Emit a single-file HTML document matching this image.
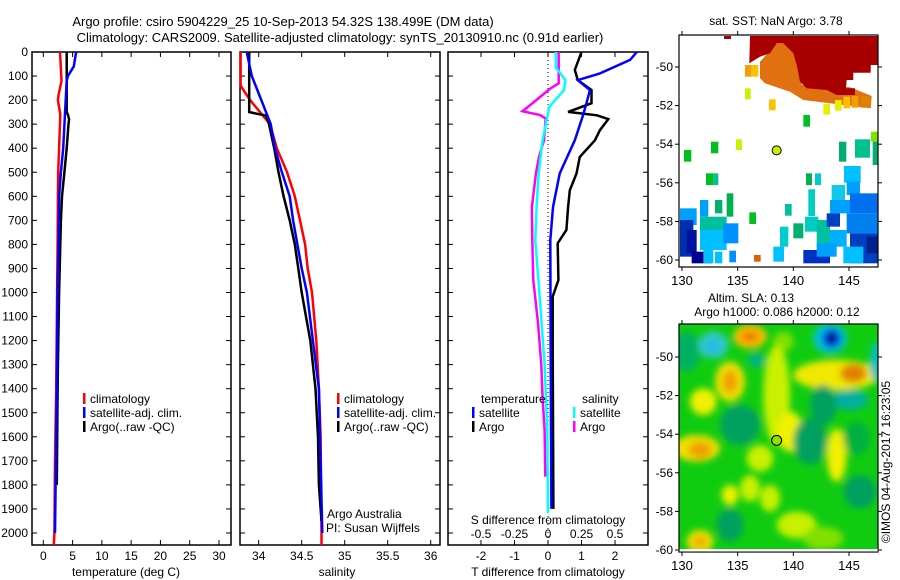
<!DOCTYPE html>
<html><head><meta charset="utf-8"><style>
html,body{margin:0;padding:0;background:#fff;}
svg{display:block;font-family:"Liberation Sans",sans-serif;}
text{font-size:12px;fill:#000;}
</style></head><body>
<svg id="chart" width="900" height="580" viewBox="0 0 900 580" xmlns="http://www.w3.org/2000/svg">
<defs>
<filter id="blur" x="-20%" y="-20%" width="140%" height="140%"><feGaussianBlur stdDeviation="3.5"/></filter>
<clipPath id="clipSla"><rect x="679" y="324" width="199" height="225"/></clipPath>
<clipPath id="clipSst"><rect x="679" y="35" width="199" height="232"/></clipPath>
</defs>
<text x="283" y="26" text-anchor="middle" style="font-size:13px">Argo profile: csiro 5904229_25 10-Sep-2013 54.32S 138.499E (DM data)</text>
<text x="340" y="42" text-anchor="middle" style="font-size:13px">Climatology: CARS2009. Satellite-adjusted climatology: synTS_20130910.nc (0.91d earlier)</text>
<g id="g"></g>
</svg>
<script>
// ---- data ----
var depthTicks = [0,100,200,300,400,500,600,700,800,900,1000,1100,1200,1300,1400,1500,1600,1700,1800,1900,2000];
var tempTicks = [0,5,10,15,20,25,30];
var salTicks = [34,34.5,35,35.5,36];
var tdiffTicks = [-2,-1,0,1,2];
var sdiffTicks = [-0.5,-0.25,0,0.25,0.5];
var sdiffTickLabels = ["-0.5","-0.25","0","0.25","0.5"];

var tClimDepth = [0,120,180,200,260,400,500,600,800,1000,1400,1700,2000,2050];
var tClimVal   = [2.85,3.1,2.6,2.5,2.9,2.7,2.55,2.5,2.45,2.35,2.2,2.0,1.9,1.8];
var tSatDepth  = [0,60,100,120,400,500,600,800,1000,1400,1800,2000];
var tSatVal    = [5.6,5.2,4.2,4.0,3.4,3.0,2.7,2.6,2.45,2.3,2.1,2.0];
var tArgoDepth = [0,250,260,280,300,400,500,600,700,800,1000,1300,1500,1800];
var tArgoVal   = [4.0,4.0,4.2,4.4,4.3,4.0,3.6,3.2,3.0,2.9,2.7,2.5,2.4,2.3];

var sClimDepth = [0,140,200,300,400,500,600,700,800,900,1000,1200,1400,1600,2000,2050];
var sClimVal   = [33.79,33.79,33.9,34.13,34.21,34.33,34.42,34.48,34.54,34.57,34.62,34.67,34.70,34.72,34.73,34.73];
var sSatDepth  = [0,100,200,300,400,500,600,700,800,900,1000,1200,1400,1700,2000];
var sSatVal    = [33.86,33.92,34.03,34.14,34.19,34.27,34.36,34.40,34.45,34.50,34.56,34.63,34.70,34.72,34.74];
var sArgoDepth = [0,250,265,300,400,500,600,700,800,900,1000,1200,1400,1600,1800,1950];
var sArgoVal   = [33.89,33.89,34.09,34.12,34.18,34.23,34.29,34.36,34.42,34.46,34.50,34.60,34.66,34.69,34.70,34.73];

var dTSatDepth  = [0,33,89,117,158,213,270,367,505,645,783,1300,1900];
var dTSatVal    = [2.65,2.45,1.55,0.89,1.25,1.15,1.03,0.80,0.35,0.15,0.07,0.08,0.1];
var dTArgoDepth = [0,75,117,158,213,249,263,279,325,367,436,505,575,645,740,795,948,1017,1225,1900];
var dTArgoVal   = [1.0,0.8,0.89,1.3,1.3,0.6,1.46,1.8,1.55,1.4,0.95,0.85,0.65,0.6,0.55,0.29,0.31,0.14,0.14,0.16];
var dSArgoDepth = [0,130,154,200,246,262,276,367,436,505,645,783,948,1127,1300,1440,1572,1766];
var dSArgoVal   = [0.08,0.08,0.013,-0.087,-0.19,-0.06,-0.017,-0.03,-0.067,-0.09,-0.12,-0.117,-0.11,-0.075,-0.05,-0.04,-0.025,-0.02];
var dSSatDepth  = [0,65,117,158,228,367,505,645,783,1017,1300,1572,1917];
var dSSatVal    = [0.058,0.06,0.13,0.12,0.01,-0.04,-0.07,-0.085,-0.095,-0.062,-0.025,-0.005,0.0];

var lonTicks = [130,135,140,145];
var latTicks = [-50,-52,-54,-56,-58,-60];
var argoLon = 138.5, argoLat = -54.32;

// ---- helpers ----
var NS = "http://www.w3.org/2000/svg";
var G = document.getElementById("g");
function mk(tag, attrs, parent) {
  var e = document.createElementNS(NS, tag);
  for (var k in attrs) e.setAttribute(k, attrs[k]);
  (parent || G).appendChild(e);
  return e;
}
function txt(x, y, s, anchor, size) {
  var t = mk("text", {x: x, y: y, "text-anchor": anchor || "middle"});
  if (size) t.style.fontSize = size + "px";
  t.textContent = s;
  return t;
}
function yD(d) { return 52 + d * 0.2405; }
function lin(d0, d1, r0, r1) { return function (v) { return r0 + (v - d0) / (d1 - d0) * (r1 - r0); }; }

var xT = lin(0, 30, 43.3, 219);
var xS = lin(34, 36, 258.7, 430.7);
var xDT = lin(-2, 2, 481, 615);
var xDS = function (s) { return xDT(s * 4); };

function panelFrame(x0, x1, name) {
  var r = mk("rect", {x: x0, y: 52, width: x1 - x0, height: 493, fill: "none", stroke: "#000", "stroke-width": 1.5});
  
  
  depthTicks.forEach(function (d) {
    mk("line", {x1: x0, x2: x0 + 5, y1: yD(d), y2: yD(d), stroke: "#000"});
    mk("line", {x1: x1, x2: x1 - 5, y1: yD(d), y2: yD(d), stroke: "#000"});
  });
}
function xTicks(scale, ticks, labels) {
  ticks.forEach(function (v, i) {
    var x = scale(v);
    mk("line", {x1: x, x2: x, y1: 52, y2: 57, stroke: "#000"});
    mk("line", {x1: x, x2: x, y1: 545, y2: 540, stroke: "#000"});
    var t = txt(x, 560, labels ? labels[i] : String(v));
    
    
  });
}
function profile(depths, vals, scale, color, name, w) {
  var pts = depths.map(function (d, i) { return scale(vals[i]).toFixed(1) + "," + yD(d).toFixed(1); }).join(" ");
  var p = mk("polyline", {points: pts, fill: "none", stroke: color, "stroke-width": w || 2.5, "stroke-linejoin": "miter"});
  
  
}
function legendEntry(x, y, color, label) {
  var g = mk("g", {});
  
  
  mk("rect", {x: x, y: y - 10, width: 2.5, height: 11, fill: color}, g);
  var t = mk("text", {x: x + 7, y: y}, g);
  t.textContent = label;
}

// ---- panel 1: temperature ----
panelFrame(32, 231, "temperature-panel");
depthTicks.forEach(function (d) {
  var t = txt(28, yD(d) + 4, String(d), "end");
  
  
});
xTicks(xT, tempTicks, null);
var tt = txt(126, 576, "temperature (deg C)");


profile(tClimDepth, tClimVal, xT, "#ff0000", "temp-climatology-line");
profile(tArgoDepth, tArgoVal, xT, "#000000", "temp-argo-line");
profile(tSatDepth, tSatVal, xT, "#0000ff", "temp-satellite-line");
legendEntry(83, 403, "#ff0000", "climatology");
legendEntry(83, 417, "#0000ff", "satellite-adj. clim.");
legendEntry(83, 431, "#000000", "Argo(..raw -QC)");

// ---- panel 2: salinity ----
panelFrame(240, 440, "salinity-panel");
xTicks(xS, salTicks, ["34","34.5","35","35.5","36"]);
var st = txt(337, 576, "salinity");


profile(sClimDepth, sClimVal, xS, "#ff0000", "sal-climatology-line");
profile(sArgoDepth, sArgoVal, xS, "#000000", "sal-argo-line");
profile(sSatDepth, sSatVal, xS, "#0000ff", "sal-satellite-line");
legendEntry(337, 403, "#ff0000", "climatology");
legendEntry(337, 417, "#0000ff", "satellite-adj. clim.");
legendEntry(337, 431, "#000000", "Argo(..raw -QC)");
var a1 = txt(327, 518, "Argo Australia", "start");


var a2 = txt(326, 532, "PI: Susan Wijffels", "start");



// ---- panel 3: differences ----
panelFrame(448, 648, "difference-panel");
mk("line", {x1: xDT(0), x2: xDT(0), y1: 52, y2: 545, stroke: "#000", "stroke-dasharray": "1,3"});
xTicks(xDT, tdiffTicks, null);
var dt = txt(548, 576, "T difference from climatology");


var ds = txt(548, 524, "S difference from climatology");


sdiffTicks.forEach(function (v, i) {
  var t = txt(xDS(v), 538, sdiffTickLabels[i]);
  
  
});
profile(dSArgoDepth, dSArgoVal, xDS, "#ff00ff", "sdiff-argo-line");
profile(dSSatDepth, dSSatVal, xDS, "#00ffff", "sdiff-satellite-line");
profile(dTArgoDepth, dTArgoVal, xDT, "#000000", "tdiff-argo-line");
profile(dTSatDepth, dTSatVal, xDT, "#0000ff", "tdiff-satellite-line");
txt(481, 403, "temperature", "start");
legendEntry(472, 417, "#0000ff", "satellite");
legendEntry(472, 431, "#000000", "Argo");
txt(582, 403, "salinity", "start");
legendEntry(573, 417, "#00ffff", "satellite");
legendEntry(573, 431, "#ff00ff", "Argo");

// ---- maps ----
var xLon = lin(130, 145, 682, 849);
function mapAxes(top, bottom, yLat, name) {
  var r = mk("rect", {x: 679, y: top, width: 199, height: bottom - top, fill: "none", stroke: "#000", "stroke-width": 1.2});
  
  
  lonTicks.forEach(function (v) {
    mk("line", {x1: xLon(v), x2: xLon(v), y1: top, y2: top - 4, stroke: "#000"});
    mk("line", {x1: xLon(v), x2: xLon(v), y1: bottom, y2: bottom + 4, stroke: "#000"});
    var t = txt(xLon(v), bottom + 18, String(v), "middle", 13);
    
    
  });
  latTicks.forEach(function (v) {
    mk("line", {x1: 679, x2: 675, y1: yLat(v), y2: yLat(v), stroke: "#000"});
    mk("line", {x1: 878, x2: 882, y1: yLat(v), y2: yLat(v), stroke: "#000"});
    var t = txt(673, yLat(v) + 4, String(v), "end", 12);
    
    
  });
}

// SST map
var yLatT = lin(-50, -60, 67, 260);
var sstG = mk("g", {"clip-path": "url(#clipSst)"});


function zp(pts) { return pts.map(function (p) { return (650 + p[0] / 3).toFixed(1) + "," + (p[1] / 3).toFixed(1); }).join(" "); }
mk("polygon", {points: zp([[330,185],[380,130],[420,130],[445,175],[455,255],[600,262],[665,288],[662,325],[460,300],[420,275],[345,250],[330,235]]), fill: "#e07010"}, sstG);
mk("polygon", {points: zp([[300,108],[683,108],[683,195],[662,195],[662,218],[610,218],[610,240],[590,240],[588,265],[615,265],[615,285],[560,285],[530,270],[470,265],[450,245],[440,195],[430,160],[400,130],[380,130],[360,160],[330,170],[298,190]]), fill: "#a80000"}, sstG);
mk("rect", {x: 650 + 222/3, y: 36, width: 7, height: 3, fill: "#a80000"}, sstG);
// SST cells [zx, zy, w, h, colour] in zoom coordinates
var sstCells = [
 [285,195,20,35,"#f0a000"],[305,195,20,35,"#ffc000"],[285,265,17,33,"#c8f000"],[357,298,20,33,"#ffc000"],
 [520,312,20,32,"#e8f000"],[555,300,20,32,"#e8f000"],[580,290,20,35,"#ffc000"],[605,288,20,35,"#f0a000"],[632,288,30,35,"#e08000"],
 [460,345,20,35,"#00c020"],[663,395,20,30,"#80e000"],[258,418,18,32,"#c8f000"],[183,425,22,35,"#00c020"],[102,450,22,35,"#00c020"],
 [567,425,22,60,"#00b070"],[615,418,45,55,"#00c090"],[668,425,15,70,"#00b070"],[168,520,22,35,"#00c020"],[190,520,15,35,"#00c090"],
 [468,520,18,35,"#00b050"],[495,520,18,35,"#00ccd0"],[230,580,20,70,"#00b050"],[298,637,20,35,"#00c020"],[405,612,20,35,"#00c0a0"],
 [475,568,20,80,"#00ccc0"],[545,555,40,55,"#10c8e8"],[582,498,50,50,"#00c0ff"],[590,545,40,40,"#00a0ff"],
 [540,600,60,40,"#00a0ff"],[600,580,83,60,"#0070f0"],[430,670,30,45,"#00b070"],
 [390,680,25,60,"#00ccd0"],[465,650,40,45,"#00ccc0"],[500,660,40,80,"#00c0a0"],[530,640,40,40,"#0040c0"],
 [590,640,93,60,"#0080f0"],[540,690,50,50,"#00b0ff"],[600,700,83,90,"#0040c0"],
 [460,750,80,40,"#0030c0"],[500,730,60,40,"#00a0ff"],[580,740,60,50,"#00c0ff"],[650,710,33,50,"#002090"],
 [90,625,50,50,"#00a0ff"],[90,660,40,110,"#0030b0"],[110,690,30,70,"#0010a0"],[150,600,25,50,"#00a0ff"],[150,650,80,45,"#00c0a0"],
 [150,690,80,60,"#00c0ff"],[125,755,60,35,"#000090"],[160,740,30,50,"#00c0ff"],[195,600,22,40,"#00b070"],[220,670,45,60,"#0090ff"],
 [195,755,22,35,"#00c0ff"],[238,752,20,35,"#0090ff"],[312,765,20,20,"#e06000"],[370,740,32,45,"#00c0ff"]
];
sstCells.forEach(function (c) {
  var r = mk("rect", {x: 650 + c[0]/3, y: c[1]/3, width: c[2]/3, height: c[3]/3, fill: c[4]}, sstG);
  
  
});
mapAxes(35, 267, yLatT, "sst-map-frame");
var m1 = mk("circle", {cx: xLon(argoLon), cy: yLatT(argoLat), r: 4.5, fill: "#c8f000", stroke: "#000", "stroke-width": 1});


var st1 = txt(776, 25, "sat. SST: NaN Argo: 3.78", "middle", 12);



// SLA map
var yLatB = lin(-50, -60, 357, 550);
var slaG = mk("g", {"clip-path": "url(#clipSla)"});


mk("rect", {x: 679, y: 324, width: 199, height: 225, fill: "#10cc10"}, slaG);
var blobG = mk("g", {filter: "url(#blur)"}, slaG);
// blobs [zx, zy, rx, ry, colour] in zoom coords (origin 650,285)
var slaBlobs = [
 [110,200,40,60,"#00b060"],[190,180,45,40,"#30c8c8"],[185,185,20,18,"#20b8e8"],[300,155,50,35,"#ffc000"],[300,155,28,18,"#f08000"],
 [400,170,30,30,"#80e000"],[320,225,25,20,"#00b090"],[540,160,50,45,"#00c0e0"],[545,160,28,28,"#0040d0"],[545,160,15,18,"#001090"],
 [560,270,130,45,"#f0e800"],[610,265,40,28,"#e08000"],[380,330,40,150,"#c8f000"],[240,290,45,60,"#f0e000"],
 [240,290,22,35,"#f0a000"],[160,350,40,40,"#f0f000"],[600,345,55,30,"#00b0a0"],[520,360,40,60,"#00a060"],
 [140,490,70,40,"#f0e000"],[150,495,35,25,"#f0a000"],[20,480,20,40,"#f0c000"],[420,440,40,60,"#f0f000"],[560,510,30,80,"#f0f000"],
 [270,420,60,60,"#00a060"],[480,470,50,70,"#00a060"],[300,610,30,40,"#c8f000"],[240,630,25,30,"#f0f000"],
 [360,640,30,40,"#c8f000"],[150,770,40,35,"#f0e000"],[150,770,20,15,"#f0a000"],[240,720,40,50,"#00a060"],
 [630,620,50,50,"#00a060"],[680,230,20,60,"#00c0c0"],[330,520,40,40,"#c8f000"],[620,460,40,50,"#00b040"],
 [440,720,60,40,"#c8f000"],[520,760,60,35,"#80e000"]
];
slaBlobs.forEach(function (b) {
  var e = mk("ellipse", {cx: 650 + b[0]/3, cy: 285 + b[1]/3, rx: b[2]/3, ry: b[3]/3, fill: b[4]}, blobG);
  
  
});
mapAxes(324, 552, yLatB, "sla-map-frame");
mk("rect", {x: 679.6, y: 549, width: 198, height: 2.5, fill: "#fff"});
var m2 = mk("circle", {cx: xLon(argoLon), cy: yLatB(argoLat), r: 5, fill: "#90e000", stroke: "#000", "stroke-width": 1});


var s1 = txt(751, 302, "Altim. SLA: 0.13", "middle", 12);


var s2 = txt(777, 316, "Argo h1000: 0.086 h2000: 0.12", "middle", 12);


var cr = txt(0, 0, "\u00a9IMOS 04-Aug-2017 16:23:05", "middle", 12);
cr.setAttribute("transform", "translate(890,462) rotate(-90)");


</script>
</body></html>
